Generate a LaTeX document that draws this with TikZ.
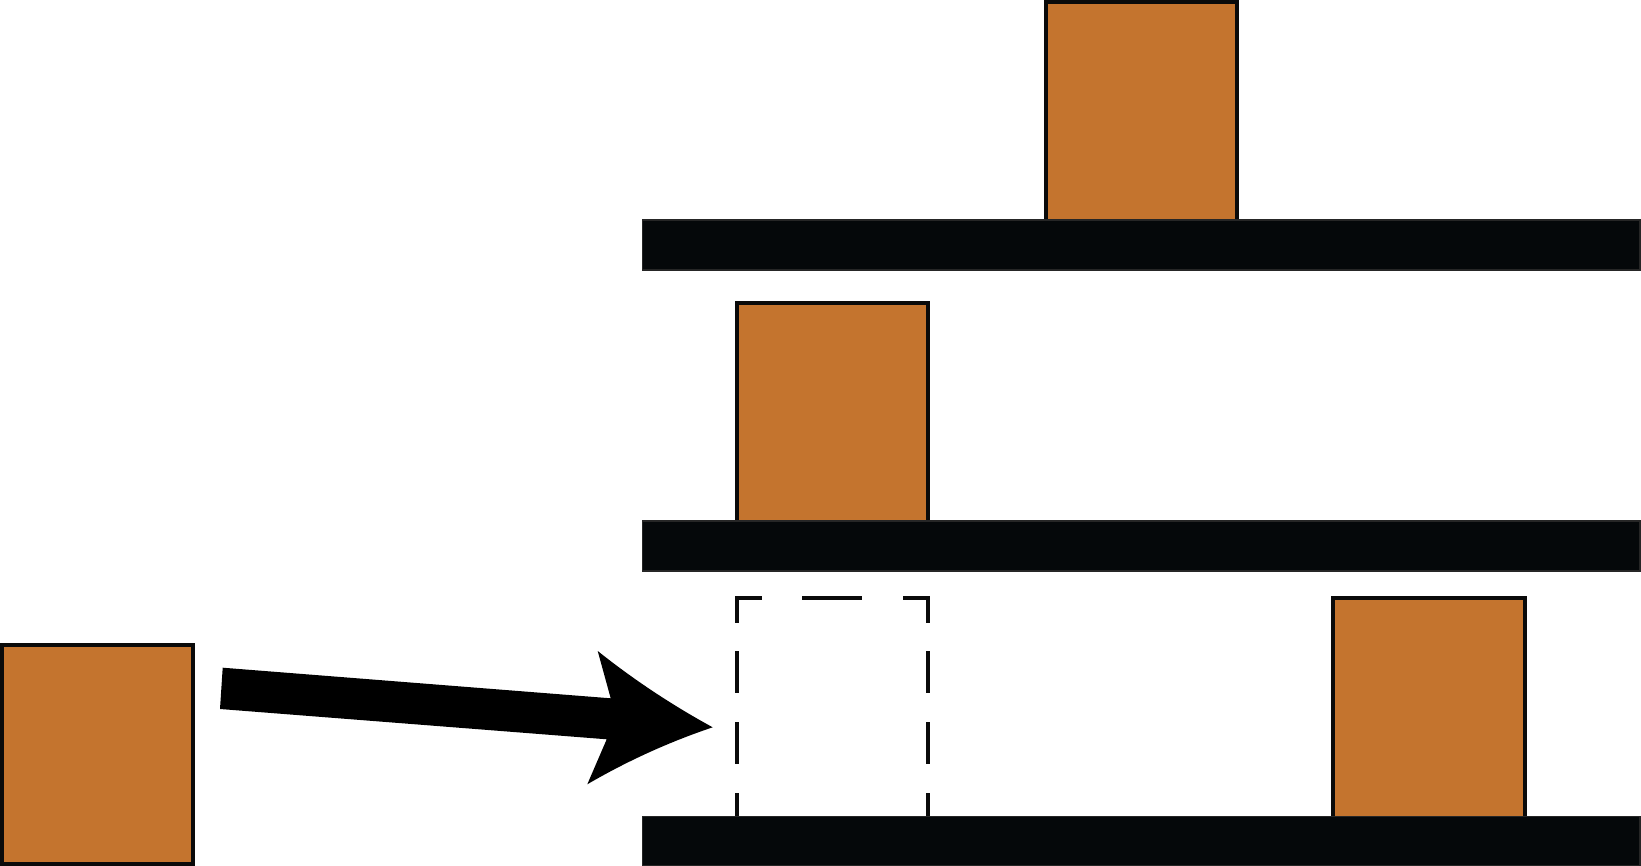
\documentclass[tikz,border=0pt]{standalone}
\definecolor{boxorange}{HTML}{C4742E}
\definecolor{shelfblack}{HTML}{05080A}
\definecolor{edge}{HTML}{0A0A0A}
\begin{document}
\begin{tikzpicture}[x=1pt,y=-1pt,
  crate/.style={fill=boxorange,draw=edge,line width=4pt},
  shelf/.style={fill=shelfblack,draw=black!85,line width=1.5pt},
  dashbox/.style={draw=edge,line width=4pt,line cap=butt},
  bigarrow/.style={fill=black}]
\useasboundingbox (0,0) rectangle (1641,866);
% crates
\draw[crate] (1046.3,2) rectangle (1237,222);
\draw[crate] (737,303) rectangle (928,523);
\draw[crate] (1333,598) rectangle (1524.7,818);
\draw[crate] (2,644.7) rectangle (193,864);
% shelves
\draw[shelf] (642.5,220) rectangle (1640.2,270);
\draw[shelf] (642.5,521) rectangle (1640.2,571);
\draw[shelf] (642.5,816.5) rectangle (1640.2,866);
% dashed outline
\draw[dashbox] (737,622.7) -- (737,598) -- (761.7,598);
\draw[dashbox] (802.3,598) -- (862.3,598);
\draw[dashbox] (903.3,598) -- (928,598) -- (928,622.7);
\foreach \xx in {737,928}{
  \draw[dashbox] (\xx,651) -- (\xx,693.3);
  \draw[dashbox] (\xx,722.3) -- (\xx,764.3);
  \draw[dashbox] (\xx,793.3) -- (\xx,816);
}
% arrow
\fill[bigarrow] (222.7,667.7) -- (610.7,698.3) -- (597.7,651)
  .. controls (633.8,679.8) and (672.2,705.2) .. (712.7,727.3)
  .. controls (669.0,742.0) and (627.2,761.0) .. (587.3,784.3)
  -- (606.7,739.3) -- (220,709) -- cycle;
\end{tikzpicture}
\end{document}
